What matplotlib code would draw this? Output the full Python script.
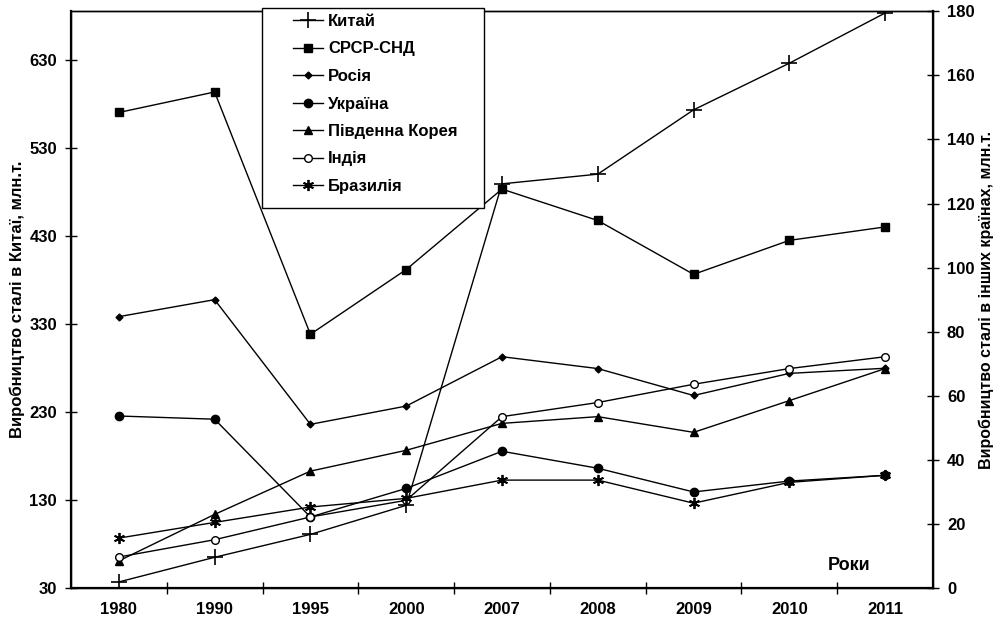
import numpy as np
import matplotlib
matplotlib.use("Agg")
import matplotlib.pyplot as plt
from matplotlib.patches import Rectangle

plt.rcParams['font.family'] = ['Liberation Sans', 'DejaVu Sans']
plt.rcParams['font.weight'] = 'bold'

years = ["1980", "1990", "1995", "2000", "2007", "2008", "2009", "2010", "2011"]

# China - left axis
china = [37, 65, 91, 124, 489, 500, 573, 626, 683]
# other countries - right axis
cis = [148.4, 154.8, 79.2, 99.4, 124.5, 114.7, 97.9, 108.5, 112.7]
russia = [84.7, 90.0, 51.1, 56.8, 72.2, 68.5, 60.1, 67.0, 68.6]
ukraine = [53.7, 52.7, 22.2, 31.1, 42.7, 37.4, 30.0, 33.4, 35.2]
korea = [8.5, 23.0, 36.5, 43.0, 51.4, 53.5, 48.6, 58.5, 68.5]
india = [9.7, 15.1, 22.2, 27.4, 53.5, 57.9, 63.6, 68.5, 72.2]
brazil = [15.6, 20.5, 25.3, 28.0, 33.7, 33.7, 26.5, 33.0, 35.2]

x = np.arange(len(years))

fig = plt.figure(figsize=(9.99, 6.23), dpi=100)
ax = fig.add_axes([0.071, 0.056, 0.863, 0.926])
ax2 = ax.twinx()

lw = 1.0
h = []
h += ax.plot(x, china, color='k', lw=lw, marker='+', ms=11, mew=1.2, label='Китай')
h += ax2.plot(x, cis, color='k', lw=lw, marker='s', ms=6, label='СРСР-СНД')
h += ax2.plot(x, russia, color='k', lw=lw, marker='D', ms=3.5, label='Росія')
h += ax2.plot(x, ukraine, color='k', lw=lw, marker='o', ms=6, label='Україна')
h += ax2.plot(x, korea, color='k', lw=lw, marker='^', ms=6, label='Південна Корея')
h += ax2.plot(x, india, color='k', lw=lw, marker='o', ms=5.5, mfc='white', mew=1.0, label='Індія')
h += ax2.plot(x, brazil, color='k', lw=lw, marker=(6, 2, 0), ms=8, mew=1.3, label='Бразилія')

ax.set_xlim(-0.5, len(years) - 0.5)
ax.set_ylim(30, 685)
ax2.set_ylim(0, 180)
ax.set_yticks(np.arange(30, 631, 100))
ax2.set_yticks(np.arange(0, 181, 20))

ax.set_xticks(x)
ax.set_xticklabels(years)
ax.set_xticks(np.arange(0.5, len(years) - 1, 1), minor=True)
ax.tick_params(axis='x', which='major', length=0, pad=10, labelsize=12)
ax.tick_params(axis='x', which='minor', direction='inout', length=8, width=1)
ax.tick_params(axis='y', direction='inout', length=8, width=1, labelsize=12, pad=6)
ax2.tick_params(axis='y', direction='inout', length=8, width=1, labelsize=12, pad=6)

for a in (ax, ax2):
    for s in a.spines.values():
        s.set_linewidth(1.0)
ax.spines['bottom'].set_linewidth(1.6)
ax.spines['left'].set_linewidth(1.6)
ax2.spines['right'].set_linewidth(1.6)

ax.set_ylabel('Виробництво сталі в Китаї, млн.т.', fontsize=12, fontweight='bold', labelpad=3)
ax2.set_ylabel('Виробництво сталі в інших країнах, млн.т.', fontsize=11.5, fontweight='bold', labelpad=3)

ax.text(7.62, 56, 'Роки', fontsize=13, fontweight='bold', ha='center', va='center')

# legend frame drawn separately (Excel style, wide left padding)
fig.patches.append(Rectangle((262 / 999, 1 - 208 / 623), 222 / 999, 200 / 623,
                             transform=fig.transFigure, fill=True, facecolor='white',
                             edgecolor='k', lw=1.0, zorder=5))
leg = fig.legend(handles=h, loc='upper left', bbox_to_anchor=(288 / 999, 1 - 9 / 623),
                 fontsize=12, frameon=False,
                 handlelength=1.8, labelspacing=0.75, borderpad=0.3,
                 borderaxespad=0, handletextpad=0.3)
leg.set_zorder(6)
for t in leg.get_texts():
    t.set_fontweight('bold')

fig.savefig('out.png', dpi=100)
